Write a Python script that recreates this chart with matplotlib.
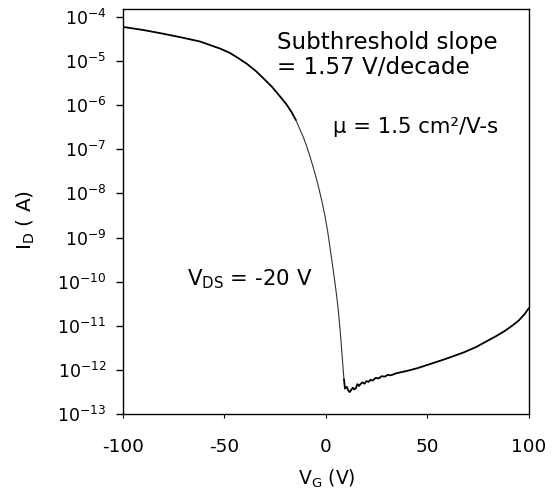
import matplotlib
matplotlib.use("Agg")
import matplotlib.pyplot as plt
import matplotlib.ticker as mticker

plt.rcParams['font.family'] = ['DejaVu Sans']
plt.rcParams['mathtext.fontset'] = 'dejavusans'
plt.rcParams['mathtext.default'] = 'regular'

# Gate voltage (V) and log10 of drain current (A)
vg = [-100, -90, -81.8, -72, -62.1, -52.2, -47.3, -43.4, -39.1, -34.5, -30.9, -26.5, -22.7, -19.5,
      -16.9, -14.8, -12.8, -11.0, -9.5, -8.0, -6.5, -5.0, -3.5, -2.0, -0.5, 1.0, 2.0, 3.2, 4.4, 5.3,
      6.1, 7.2, 8.2, 8.9,
      9.4, 10.3, 11.0, 11.7, 12.5, 13.3, 14.0, 14.8, 15.5, 16.3, 17.0, 18, 19, 20, 21, 22, 23, 24.5,
      26, 27.5, 29, 30.5, 32, 35, 40, 45, 51, 57, 62, 68, 74, 80, 84, 88, 92, 95, 98, 100]
log_id = [-4.23, -4.30, -4.37, -4.46, -4.56, -4.72, -4.82, -4.93, -5.06, -5.23, -5.39, -5.59, -5.80, -5.98,
          -6.16, -6.34, -6.55, -6.74, -6.93, -7.14, -7.37, -7.61, -7.88, -8.17, -8.50, -8.90, -9.22,
          -9.60, -10.00, -10.32, -10.64, -11.20, -11.80, -12.21,
          -12.42, -12.38, -12.46, -12.50, -12.45, -12.40, -12.44, -12.41, -12.32, -12.36, -12.32, -12.28,
          -12.31, -12.25, -12.27, -12.22, -12.24, -12.18, -12.19, -12.14, -12.15, -12.11, -12.12, -12.07,
          -12.02, -11.96, -11.87, -11.78, -11.70, -11.60, -11.48, -11.33, -11.23, -11.12, -10.99, -10.88,
          -10.73, -10.60]

x_ticks = [-100, -50, 0, 50, 100]
y_exps = [-13, -12, -11, -10, -9, -8, -7, -6, -5, -4]

id_vals = [10 ** v for v in log_id]

# segments: on-state part, steep thin subthreshold part, off-state part
i_knee = vg.index(-14.8)
i_min = vg.index(8.9)

fig = plt.figure(figsize=(5.59, 4.99), dpi=100)
ax = fig.add_axes([0.22, 0.170, 0.726, 0.812])
ax.plot(vg[:i_knee + 1], id_vals[:i_knee + 1], color='black', lw=1.3, solid_capstyle='round')
ax.plot(vg[i_knee:i_min + 1], id_vals[i_knee:i_min + 1], color='#333333', lw=0.8)
ax.plot(vg[i_min:], id_vals[i_min:], color='black', lw=1.3, solid_capstyle='round')
ax.set_yscale('log')
ax.set_xlim(-100, 100)
ax.set_ylim(1e-13, 1.5e-4)
ax.set_xticks(x_ticks)
ax.set_xticklabels([str(t) for t in x_ticks])
ax.set_yticks([10.0 ** e for e in y_exps])
ax.set_yticklabels([r'10$^{%d}$' % e for e in y_exps])
ax.yaxis.set_minor_locator(mticker.NullLocator())
ax.tick_params(axis='y', direction='out', length=5, width=1, pad=7, labelsize=12.5)
ax.tick_params(axis='x', direction='out', length=3, width=0.8, pad=14, labelsize=13.3)
for s in ax.spines.values():
    s.set_linewidth(1)

ax.set_ylabel(r'I$_D$ ( A)', fontsize=14.5)
ax.yaxis.set_label_coords(-0.212, 0.479)
ax.set_xlabel(r'V$_G$ (V)', fontsize=13.5)
ax.xaxis.set_label_coords(0.502, -0.133)

ax.text(0.379, 0.902, 'Subthreshold slope', transform=ax.transAxes,
        fontsize=16.6, ha='left', va='baseline')
ax.text(0.379, 0.839, '= 1.57 V/decade', transform=ax.transAxes,
        fontsize=16.6, ha='left', va='baseline')
ax.text(0.517, 0.694, 'μ = 1.5 cm²/V-s', transform=ax.transAxes,
        fontsize=15.3, ha='left', va='baseline')
ax.text(0.158, 0.319, r'V$_{DS}$ = -20 V', transform=ax.transAxes,
        fontsize=15.3, ha='left', va='baseline')

fig.savefig('out.png', dpi=100, facecolor='white')
